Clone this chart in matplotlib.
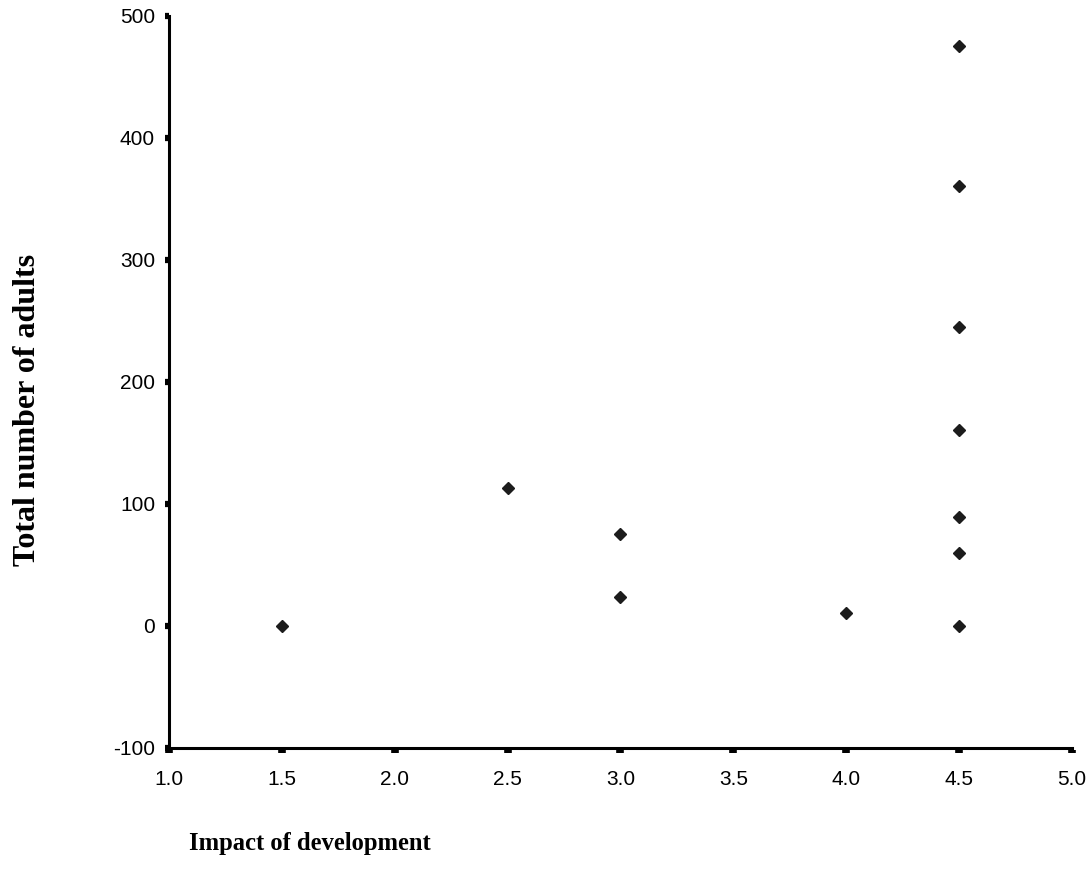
import numpy as np
import matplotlib
matplotlib.use("Agg")
import matplotlib.pyplot as plt

# impact score vs adults counted at each site
impact = [1.5, 2.5, 3.0, 3.0, 4.0, 4.5, 4.5, 4.5, 4.5, 4.5, 4.5, 4.5]
adults = [0, 113, 75, 24, 11, 475, 361, 245, 161, 89, 60, 0]

x_ticks = [1.0, 1.5, 2.0, 2.5, 3.0, 3.5, 4.0, 4.5, 5.0]
y_ticks = [-100, 0, 100, 200, 300, 400, 500]

fig = plt.figure(figsize=(10.9, 8.88), dpi=100)
ax = fig.add_axes([0.155, 0.1577, 0.8284, 0.8243])

ax.plot(impact, adults, linestyle="none", marker="D", markersize=6.3,
        color="#1c1c1c", clip_on=False)

ax.set_xlim(1.0, 5.0)
ax.set_ylim(-100, 500)

for side in ("top", "right"):
    ax.spines[side].set_visible(False)
for side in ("left", "bottom"):
    ax.spines[side].set_linewidth(2.2)
    ax.spines[side].set_color("black")

ax.set_yticks(y_ticks)
ax.set_yticklabels([str(v) for v in y_ticks], fontfamily="Liberation Sans",
                   fontsize=15)
ax.tick_params(axis="y", direction="out", length=3, width=4.5, pad=7)

# x tick dashes sit just below the axis line, labels go on the main axis
ax.set_xticks(x_ticks)
ax.set_xticklabels([f"{v:.1f}" for v in x_ticks], fontfamily="Liberation Sans",
                   fontsize=15)
ax.tick_params(axis="x", length=0, pad=16)

sec = ax.secondary_xaxis(-0.003)
sec.set_xticks(x_ticks)
sec.set_xticklabels([])
sec.spines["bottom"].set_visible(False)
sec.tick_params(axis="x", direction="out", length=2.2, width=5.5)

fig.text(0.025, 0.538, "Total number of adults", rotation=90,
         ha="center", va="center", fontfamily="Liberation Serif",
         fontweight="bold", fontsize=23)
fig.text(0.284, 0.05, "Impact of development", ha="center", va="center",
         fontfamily="Liberation Serif", fontweight="bold", fontsize=17.7)

fig.savefig("out.png", dpi=100)
